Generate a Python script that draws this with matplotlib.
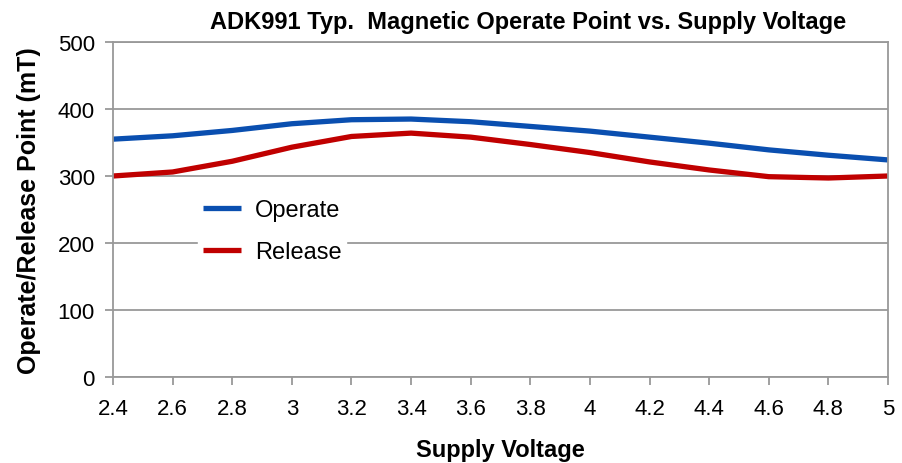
import matplotlib.pyplot as plt

plt.rcParams['font.family'] = ['Liberation Sans', 'DejaVu Sans']

voltage = [2.4, 2.6, 2.8, 3.0, 3.2, 3.4, 3.6, 3.8, 4.0, 4.2, 4.4, 4.6, 4.8, 5.0]
operate = [355, 360, 368, 378, 384, 385, 381, 374, 367, 358, 349, 339, 331, 324]
release = [300, 306, 322, 343, 359, 364, 358, 347, 335, 321, 309, 299, 297, 300]
xticks = [2.4, 2.6, 2.8, 3.0, 3.2, 3.4, 3.6, 3.8, 4.0, 4.2, 4.4, 4.6, 4.8, 5.0]
xlabels = ['2.4', '2.6', '2.8', '3', '3.2', '3.4', '3.6', '3.8', '4', '4.2', '4.4', '4.6', '4.8', '5']

fig = plt.figure(figsize=(9.02, 4.64), dpi=100)
ax = fig.add_axes([113 / 902, 1 - 378 / 464, 775 / 902, 335 / 464])

ax.plot(voltage, operate, color='#0a4fb0', lw=3.8, label='Operate', solid_capstyle='butt')
ax.plot(voltage, release, color='#c00000', lw=3.8, label='Release', solid_capstyle='butt')

ax.set_xlim(2.4, 5.0)
ax.set_ylim(0, 500)
ax.set_xticks(xticks)
ax.set_xticklabels(xlabels)
ax.set_yticks([0, 100, 200, 300, 400, 500])
ax.grid(axis='y', color='#999999', lw=1.3)
ax.set_axisbelow(True)
for s in ax.spines.values():
    s.set_color('#999999')
    s.set_linewidth(1.3)
ax.tick_params(axis='both', colors='#999999', labelcolor='black', labelsize=16,
               length=6, width=1.3)
ax.tick_params(axis='x', pad=9)
ax.tick_params(axis='y', pad=7)

ax.set_title('ADK991 Typ.  Magnetic Operate Point vs. Supply Voltage',
             fontsize=17, fontweight='bold', x=0.535, pad=10)
ax.set_xlabel('Supply Voltage', fontsize=17, fontweight='bold', labelpad=14)
ax.set_ylabel('Operate/Release Point (mT)', fontsize=18, fontweight='bold', labelpad=12)

leg = ax.legend(loc='upper left', bbox_to_anchor=(0.095, 0.58), frameon=True,
                fontsize=17, handlelength=1.6, borderpad=0.2, labelspacing=0.85,
                handletextpad=0.6, fancybox=False)
leg.get_frame().set_edgecolor('white')
leg.get_frame().set_alpha(1)

fig.savefig('out.png', dpi=100)
